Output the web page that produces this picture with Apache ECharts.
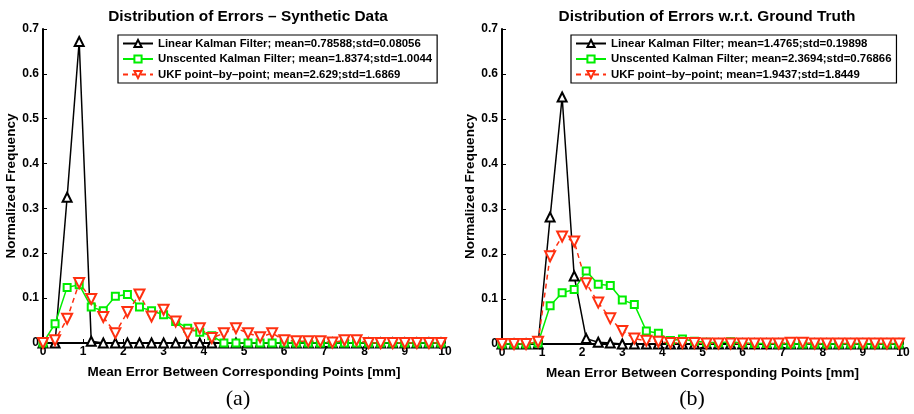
<!DOCTYPE html>
<html>
<head>
<meta charset="utf-8">
<script src="https://cdn.jsdelivr.net/npm/echarts@6/dist/echarts.min.js"></script>
<style>
  html, body { margin: 0; padding: 0; background: #fff; }
  #chart { width: 914px; height: 414px; }
</style>
</head>
<body>
<div id="chart"></div>
<script>
// bin centres, 0 .. 9.9 mm in 0.3 steps
var bins = [0, 0.3, 0.6, 0.9, 1.2, 1.5, 1.8, 2.1, 2.4, 2.7, 3.0, 3.3, 3.6, 3.9, 4.2, 4.5, 4.8,
  5.1, 5.4, 5.7, 6.0, 6.3, 6.6, 6.9, 7.2, 7.5, 7.8, 8.1, 8.4, 8.7, 9.0, 9.3, 9.6, 9.9];

// (a) synthetic data
var linearA = [0, 0, 0.325, 0.672, 0.004, 0, 0, 0, 0, 0, 0, 0, 0, 0, 0, 0, 0,
  0, 0, 0, 0, 0, 0, 0, 0, 0, 0, 0, 0, 0, 0, 0, 0, 0];
var unscentedA = [0, 0.043, 0.124, 0.130, 0.080, 0.072, 0.104, 0.108, 0.080, 0.072, 0.063, 0.048, 0.033, 0.024, 0.016, 0, 0,
  0, 0, 0, 0, 0, 0, 0, 0, 0, 0, 0, 0, 0, 0, 0, 0, 0];
var ukfA = [0, 0.006, 0.054, 0.134, 0.098, 0.058, 0.022, 0.069, 0.108, 0.059, 0.074, 0.048, 0.021, 0.033, 0.011, 0.022, 0.033,
  0.022, 0.013, 0.022, 0.006, 0.004, 0.004, 0.004, 0.001, 0.006, 0.006, 0, 0, 0, 0, 0, 0, 0];

// (b) w.r.t. ground truth
var linearB = [0, 0, 0, 0, 0.282, 0.549, 0.151, 0.012, 0.004, 0.002, 0, 0, 0, 0, 0, 0, 0,
  0, 0, 0, 0, 0, 0, 0, 0, 0, 0, 0, 0, 0, 0, 0, 0, 0];
var unscentedB = [0, 0, 0, 0.002, 0.085, 0.114, 0.121, 0.162, 0.133, 0.130, 0.098, 0.088, 0.029, 0.024, 0.008, 0.011, 0.006,
  0.004, 0.003, 0.005, 0.002, 0.001, 0.001, 0, 0, 0, 0, 0, 0, 0, 0, 0, 0, 0];
var ukfB = [0, 0, 0, 0.005, 0.195, 0.239, 0.228, 0.135, 0.092, 0.057, 0.029, 0.012, 0.007, 0.005, 0.002, 0.002, 0.002,
  0.001, 0.001, 0.001, 0.001, 0.001, 0.001, 0.001, 0.003, 0.003, 0.001, 0.001, 0.001, 0.001, 0.001, 0.001, 0.001, 0.001];

var titles = ['Distribution of Errors \u2013 Synthetic Data', 'Distribution of Errors w.r.t. Ground Truth'];
var captions = ['(a)', '(b)'];
var namesA = [
  'Linear Kalman Filter; mean=0.78588;std=0.08056',
  'Unscented Kalman Filter; mean=1.8374;std=1.0044',
  'UKF point\u2013by\u2013point; mean=2.629;std=1.6869'
];
var namesB = [
  'Linear Kalman Filter; mean=1.4765;std=0.19898',
  'Unscented Kalman Filter; mean=2.3694;std=0.76866',
  'UKF point\u2013by\u2013point; mean=1.9437;std=1.8449'
];
var xName = 'Mean Error Between Corresponding Points [mm]';
var yName = 'Normalized Frequency';

var FONT = '"Liberation Sans", Arial, sans-serif';
var SERIF = '"Liberation Serif", "DejaVu Serif", serif';
var BLACK = '#000000', GREEN = '#00ee00', RED = '#ff3010';

function pairs(ys) {
  return bins.map(function (x, i) { return [x, ys[i]]; });
}

function mkSeries(name, ys, idx, kind) {
  var s = {
    name: name,
    type: 'line',
    xAxisIndex: idx,
    yAxisIndex: idx,
    data: pairs(ys),
    animation: false,
    showAllSymbol: true,
    lineStyle: { width: 1.5 },
    itemStyle: { borderWidth: 2 }
  };
  if (kind === 0) {
    s.symbol = 'emptyTriangle';
    s.symbolSize = 9;
    s.lineStyle.color = BLACK;
    s.itemStyle.color = BLACK;
  } else if (kind === 1) {
    s.symbol = 'emptyRect';
    s.symbolSize = 7;
    s.lineStyle.color = GREEN;
    s.itemStyle.color = GREEN;
    s.itemStyle.borderWidth = 1.6;
  } else {
    s.symbol = 'emptyTriangle';
    s.symbolRotate = 180;
    s.symbolSize = 10;
    s.lineStyle.color = RED;
    s.lineStyle.type = [5, 4];
    s.itemStyle.color = RED;
    s.itemStyle.borderWidth = 2.4;
  }
  return s;
}

function mkX(idx) {
  return {
    gridIndex: idx, type: 'value', min: 0, max: 10, interval: 1,
    name: xName, nameLocation: 'middle', nameGap: 22,
    nameTextStyle: { fontFamily: FONT, fontWeight: 'bold', fontSize: 13.5, color: '#000' },
    axisLine: { onZero: false, lineStyle: { color: '#000', width: 2 } },
    axisTick: { inside: true, length: 4, lineStyle: { color: '#000', width: 1 } },
    axisLabel: { fontFamily: FONT, fontWeight: 'bold', fontSize: 12, color: '#000', margin: 3 },
    splitLine: { show: false }
  };
}

function mkY(idx) {
  return {
    gridIndex: idx, type: 'value', min: 0, max: 0.7, interval: 0.1,
    name: yName, nameLocation: 'middle', nameGap: 25,
    nameTextStyle: { fontFamily: FONT, fontWeight: 'bold', fontSize: 13.5, color: '#000' },
    axisLine: { show: true, lineStyle: { color: '#000', width: 2 } },
    axisTick: { show: true, inside: true, length: 4, lineStyle: { color: '#000', width: 1 } },
    axisLabel: { fontFamily: FONT, fontWeight: 'bold', fontSize: 12, color: '#000', margin: 4 },
    splitLine: { show: false }
  };
}

function mkLegend(names, left) {
  return {
    data: names, orient: 'vertical', left: left, top: 35,
    padding: [3, 5, 3, 4], itemGap: 4.5, itemWidth: 30, itemHeight: 9,
    backgroundColor: '#fff', borderColor: '#000', borderWidth: 1.2, borderRadius: 0,
    selectedMode: false,
    textStyle: { fontFamily: FONT, fontWeight: 'bold', fontSize: 11.4, color: '#000' }
  };
}

var chart = echarts.init(document.getElementById('chart'), null, { renderer: 'canvas' });

chart.setOption({
  backgroundColor: '#fff',
  animation: false,
  title: [
    { text: titles[0], left: 243, top: 4, textAlign: 'center',
      textStyle: { fontFamily: FONT, fontWeight: 'bold', fontSize: 15.4, color: '#000' } },
    { text: titles[1], left: 702, top: 4, textAlign: 'center',
      textStyle: { fontFamily: FONT, fontWeight: 'bold', fontSize: 15.4, color: '#000' } },
    { text: captions[0], left: 233, top: 383, textAlign: 'center',
      textStyle: { fontFamily: SERIF, fontWeight: 'normal', fontSize: 22, color: '#000' } },
    { text: captions[1], left: 687, top: 383, textAlign: 'center',
      textStyle: { fontFamily: SERIF, fontWeight: 'normal', fontSize: 22, color: '#000' } }
  ],
  grid: [
    { left: 43, right: 469, top: 29, bottom: 71 },
    { left: 502, right: 11, top: 29, bottom: 70 }
  ],
  legend: [mkLegend(namesA, 118), mkLegend(namesB, 571)],
  xAxis: [mkX(0), mkX(1)],
  yAxis: [mkY(0), mkY(1)],
  series: [
    mkSeries(namesA[0], linearA, 0, 0),
    mkSeries(namesA[1], unscentedA, 0, 1),
    mkSeries(namesA[2], ukfA, 0, 2),
    mkSeries(namesB[0], linearB, 1, 0),
    mkSeries(namesB[1], unscentedB, 1, 1),
    mkSeries(namesB[2], ukfB, 1, 2)
  ]
});
</script>
</body>
</html>
